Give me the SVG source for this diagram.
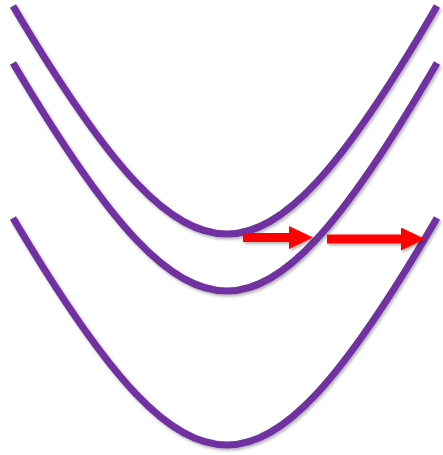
<svg xmlns="http://www.w3.org/2000/svg" width="443" height="455" viewBox="0 0 443 455">
  <defs>
    <filter id="shadow" filterUnits="userSpaceOnUse" x="0" y="0" width="443" height="455">
      <feDropShadow dx="1.5" dy="2" stdDeviation="1.5" flood-color="#000" flood-opacity="0.3"/>
    </filter>
    <marker id="head" markerUnits="userSpaceOnUse" markerWidth="24" markerHeight="23" refX="0" refY="11.5" orient="auto" viewBox="0 0 24 23">
      <path d="M0,0 L24,11.5 L0,23 Z" fill="#FF0000"/>
    </marker>
  </defs>
  <style>
    .curve { fill: none; stroke: #7030A0; stroke-width: 7; stroke-linecap: butt; filter: url(#shadow); }
    .arrow { fill: none; stroke: #FF0000; stroke-width: 9; stroke-linecap: butt; marker-end: url(#head); filter: url(#shadow); }
  </style>
  <rect width="443" height="455" fill="#FFFFFF"/>
  <g id="curve-top">
    <path class="curve" d="M13,6 C112,173 171,234 227,234 C282,234 340,173 437,6"/>
  </g>
  <g id="curve-middle">
    <path class="curve" d="M13,63 C112,230 171,291 227,291 C282,291 340,230 437,63"/>
  </g>
  <g id="curve-bottom">
    <path class="curve" d="M13,218 C112,385 171,445 227,445 C282,445 340,385 437,218"/>
  </g>
  <g id="connectors">
    <path class="arrow" d="M243,237.5 H289"/>
    <path class="arrow" d="M327,239 H401"/>
  </g>
</svg>
